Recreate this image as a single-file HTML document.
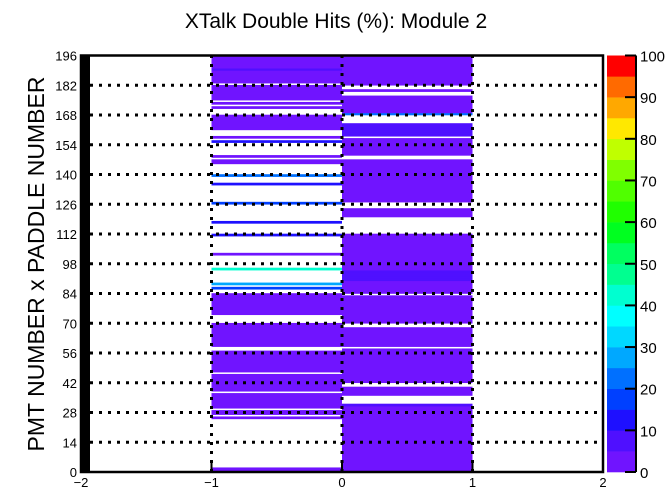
<!DOCTYPE html>
<html><head><meta charset="utf-8"><style>
html,body{margin:0;padding:0;background:#fff;}
svg{display:block;font-family:"Liberation Sans",sans-serif;}
</style></head><body>
<svg id="chart" width="670" height="490" viewBox="0 0 670 490" xmlns="http://www.w3.org/2000/svg">
<rect width="670" height="490" fill="#fff"/>
<text x="336" y="28" font-size="21" text-anchor="middle">XTalk Double Hits (%): Module 2</text>
<text transform="translate(44,264) rotate(-90)" font-size="23" text-anchor="middle">PMT NUMBER x PADDLE NUMBER</text>
<g id="cells"></g>
<g id="grid"></g>
<g id="axes"></g>
<g id="cbar"></g>
</svg>
<script>
const xBinEdges = [-1, 0, 1];
const leftColumn = [
3,3,0,0,0,0,0,0,0,0,0,0,0,0,
0,0,0,0,0,0,0,0,0,0,0,3,0,3,
3,0,3,3,3,3,3,3,3,0,3,3,3,3,
3,3,3,3,0,3,3,3,3,3,3,3,3,3,
3,0,0,3,3,3,3,3,3,3,3,3,3,3,
0,0,0,0,3,3,3,3,3,3,3,3,3,3,
0,0,17,0,27,0,0,0,0,0,0,42,0,0,
0,0,0,0,4,0,0,0,0,0,0,0,0,14,
0,0,0,0,0,12,0,0,0,0,0,0,0,0,
17,0,0,0,0,0,0,0,0,14,0,0,0,24,
0,0,0,0,0,4,4,0,4,0,0,0,0,0,
0,13,0,4,0,0,0,3,3,3,3,3,3,3,
0,0,0,4,0,4,0,3,3,3,3,3,3,3,
0,3,3,3,3,3,3,8,3,3,3,3,3,3];
const rightColumn = [
3,3,3,3,3,3,3,3,3,3,3,3,3,3,
3,3,3,3,3,3,3,3,3,3,3,3,3,3,
3,3,3,8,0,0,0,0,3,3,3,3,0,0,
3,3,3,3,3,3,3,3,3,3,3,3,3,3,
3,3,0,3,3,3,3,3,3,3,3,3,0,0,
3,3,3,3,3,3,3,3,3,3,3,3,3,0,
3,3,3,3,3,3,7,7,7,7,7,3,3,3,
3,3,3,3,3,3,3,3,3,3,3,3,3,3,
0,0,0,0,0,0,0,0,3,3,3,3,0,0,
0,3,3,3,3,3,3,3,3,3,3,3,3,3,
3,3,3,3,3,3,3,0,0,3,3,3,3,3,
3,3,3,0,8,8,8,8,8,8,0,0,0,0,
22,3,3,3,3,3,3,3,3,0,0,4,0,0,
3,3,3,3,3,3,3,3,3,3,3,3,3,3];
const xTicks = [-2, -1, 0, 1, 2];
const yTicks = [0,14,28,42,56,70,84,98,112,126,140,154,168,182,196];
const zTicks = [0,10,20,30,40,50,60,70,80,90,100];
const palette = ['#7014ff','#4f10ff','#1e10ff','#0040ff','#0070ff','#00a8ff','#00d8ff','#00ffff','#00ffd0','#00ff90','#00ff60','#00ff20','#20ff00','#50ff00','#80ff00','#c0ff00','#ffe800','#ffa800','#ff6a00','#ff0000'];

const NS = 'http://www.w3.org/2000/svg';
const X0 = 81, X1 = 603, Y0 = 472, Y1 = 55.5;
const xMin = -2, xMax = 2, yMin = 0, yMax = 196;
function xs(v){ return X0 + (v - xMin) / (xMax - xMin) * (X1 - X0); }
function ys(v){ return Y0 - (v - yMin) / (yMax - yMin) * (Y0 - Y1); }
const CB0 = 607, CB1 = 636;
function zs(v){ return Y0 - v / 100 * (Y0 - Y1); }
function color(v){ let i = Math.floor(v / 5); if (i > 19) i = 19; return palette[i]; }
function mk(tag, attrs, parent){ const e = document.createElementNS(NS, tag); for (const k in attrs) e.setAttribute(k, attrs[k]); parent.appendChild(e); return e; }

const cells = document.getElementById('cells');
[leftColumn, rightColumn].forEach((col, c) => {
  col.forEach((v, r) => {
    if (v <= 0) return;
    const x = xs(xBinEdges[c]), w = xs(xBinEdges[c+1]) - x;
    const yTop = ys(r + 1), h = ys(r) - yTop;
    const e = mk('rect', {x: x, y: yTop - 0.3, width: w, height: h + 0.6, fill: color(v)}, cells);
    
    
  });
});

const grid = document.getElementById('grid');
yTicks.slice(1, -1).forEach(t => {
  const e = mk('line', {x1: X0 + 9, x2: X1, y1: ys(t), y2: ys(t), stroke: '#000', 'stroke-width': 3, 'stroke-dasharray': '3,6'}, grid);
  
  
});
xTicks.slice(1, -1).forEach(t => {
  const e = mk('line', {x1: xs(t), x2: xs(t), y1: Y0, y2: Y1, stroke: '#000', 'stroke-width': 3, 'stroke-dasharray': '3,6'}, grid);
  
  
});

const axes = document.getElementById('axes');
let f = mk('rect', {x: X0, y: Y1, width: X1 - X0, height: Y0 - Y1, fill: 'none', stroke: '#000', 'stroke-width': 2.5}, axes);


let strip = mk('rect', {x: X0, y: Y1, width: 9, height: Y0 - Y1, fill: '#000'}, axes);


yTicks.forEach(t => {
  const e = mk('text', {x: 77, y: ys(t) + 5, 'font-size': 13, 'text-anchor': 'end'}, axes);
  e.textContent = t;
  
  
});
xTicks.forEach(t => {
  const e = mk('text', {x: xs(t), y: 487, 'font-size': 13, 'text-anchor': 'middle'}, axes);
  e.textContent = t < 0 ? '\u2212' + Math.abs(t) : t;
  
  
  const tk = mk('line', {x1: xs(t), x2: xs(t), y1: Y0, y2: Y0 - 10, stroke: '#000', 'stroke-width': 2}, axes);
  
  
});

const cbar = document.getElementById('cbar');
palette.forEach((c, i) => {
  const e = mk('rect', {x: CB0, y: zs((i + 1) * 5), width: CB1 - CB0, height: zs(i * 5) - zs((i + 1) * 5) + 0.3, fill: c}, cbar);
  
  
});
let ax = mk('line', {x1: CB1, x2: CB1, y1: Y1, y2: Y0, stroke: '#000', 'stroke-width': 2}, cbar);


zTicks.forEach(t => {
  const tk = mk('line', {x1: CB1 - 11, x2: CB1, y1: zs(t), y2: zs(t), stroke: '#000', 'stroke-width': 2}, cbar);
  
  
  const e = mk('text', {x: 640, y: zs(t) + 6, 'font-size': 15}, cbar);
  e.textContent = t;
  
  
});
</script>
</body></html>
